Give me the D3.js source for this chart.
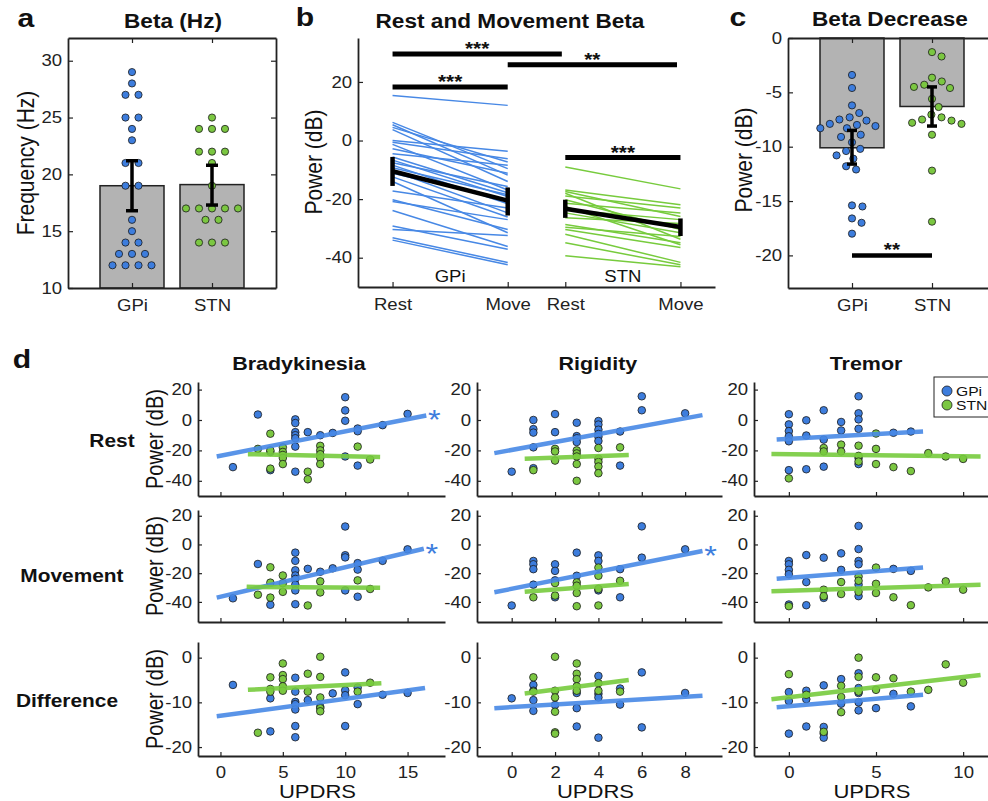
<!DOCTYPE html>
<html>
<head>
<meta charset="utf-8">
<script src="https://cdn.jsdelivr.net/npm/d3@7"></script>
<style>
  body { margin: 0; background: #fff; }
  svg text { font-family: "Liberation Sans", Arial, sans-serif; transform-box: fill-box; transform-origin: center; transform: scaleX(1.16); }
  svg .yax text { transform-origin: right center; }
  svg text.rot { transform: scaleY(1.16); }
  svg text.lft { transform-origin: left center; }
</style>
</head>
<body>
<svg id="chart"></svg>
<script>
// ---- data ----
const groups = ["GPi", "STN"];

// a: peak beta frequency (Hz)
const freqGPi = [29, 28, 27, 27, 25, 25, 24, 23, 21, 21, 19, 19, 16, 15, 14, 14, 13, 13, 13, 12, 12, 12, 12];
const freqSTN = [25, 24, 24, 24, 22, 22, 22, 21, 19, 17, 17, 17, 17, 17, 16, 16, 14, 14, 14];
const freqMean = [19.0, 19.1];
const freqLo = [16.8, 17.3];
const freqHi = [21.2, 20.8];

// b: rest / movement beta power (dB), paired per hemisphere
const restGPi = [15.4, 6.2, 5.4, 4.5, 3.7, 0, -0.6, -1.3, -2.8, -4.5, -5.6, -6.7, -7.6, -8.4, -9.3, -10.3, -11.2, -12.4, -14, -17.2, -20.2, -20.8, -23.9, -29.2, -30.4, -33.2, -34];
const moveGPi = [12, -9.6, -11.8, -7.3, -14, -3.7, -6.2, -16.9, -11.2, -8.4, -17.8, -19.1, -15.7, -21.6, -18.5, -24.7, -20.2, -26.1, -31.5, -23, -30.4, -27, -36.2, -37.1, -32.4, -41.6, -42.4];
const restSTN = [-9, -16.9, -17.4, -18, -18.9, -20.2, -21.4, -22.5, -23.6, -24.7, -26.4, -28.7, -29.6, -30.4, -32, -34.9, -39.3];
const moveSTN = [-16.5, -21.9, -25.9, -33.7, -23, -30.4, -24.7, -35.6, -27, -31.5, -28.3, -34.9, -32.8, -36.5, -41.6, -42.4, -43.1];
const meanGPi = [-10.5, -20.5];
const errGPi = [[-5.6, -15.5], [-16, -25.6]];
const meanSTN = [-23.3, -29.5];
const errSTN = [[-20.2, -26.4], [-26.6, -32.6]];
const conditionTicks = [1, 2, 2.5, 3.5];
const conditionLabels = ["Rest", "Move", "Rest", "Move"];
const sigBars = [
  { x0: 1, x1: 2.47, y: 29.5, label: "***" },
  { x0: 2, x1: 3.47, y: 25.9, label: "**" },
  { x0: 1, x1: 2, y: 18.3, label: "***" },
  { x0: 2.5, x1: 3.5, y: -5.8, label: "***" }
];

// c: beta decrease (dB)
const decGPi = [-3.4, -4.6, -6.2, -6.9, -7.3, -7.6, -7.5, -7.9, -8.0, -8.1, -8.3, -8.3, -9.1, -8.9, -9.6, -10.2, -10.4, -10.8, -11.1, -12.1, -11.8, -15.4, -15.5, -16.6, -17.0, -18.0];
const decSTN = [-1.3, -1.7, -3.65, -4.0, -4.3, -4.5, -4.6, -5.6, -6.35, -7.05, -7.3, -7.6, -7.5, -7.9, -7.8, -8.9, -12.2, -16.9];
const decMean = [-10.1, -6.3];
const decLo = [-11.6, -8.1];
const decHi = [-8.5, -4.5];
const decSig = { x0: 1, x1: 2, y: -20, label: "**" };

// d: UPDRS subscore vs power, [UPDRS, dB]
const bradyRestGPi = [[1,-31],[3,3.6],[4,-21],[4,-33],[6,0.4],[6,-2],[6,-8],[6,-10],[6,-12],[6,-17.5],[6,-34],[7,-8],[8,-10],[9,-8.5],[10,15],[10,6.3],[10,-0.5],[10,-24],[11,-5.6],[11,-7.4],[11,-30],[13,-3.4],[15,4]];
const bradyRestSTN = [[3,-19],[4,-9],[4,-20],[4,-32],[5,-18],[5,-21],[5,-23],[5,-25],[5,-29],[7,-34],[7,-39],[8,-17],[8,-20],[8,-22.5],[8,-25],[8,-29],[11,-17.5],[12,-26]];
const rigidRestGPi = [[0,-34],[1,0],[1,-6],[1,-8.3],[1,-18],[1,-31.7],[2,3.9],[2,-8],[3,-1.8],[3,-10.6],[3,-12],[3,-14.5],[4,-0.7],[4,-3],[4,-6.4],[4,-9.2],[4,-11],[4,-13.8],[5,-7.6],[5,-30],[6,15.6],[6,6.4],[8,4.4]];
const rigidRestSTN = [[1,-33],[2,-19],[2,-20.7],[2,-26.7],[3,-20],[3,-22],[3,-24],[3,-29],[3,-40],[4,-18.4],[4,-25.5],[4,-27.6],[4,-30.6],[4,-35],[5,-18]];
const tremorRestGPi = [[0,3.8],[0,-2.9],[0,-7.3],[0,-10.7],[0,-14],[0,-33],[1,-0.2],[1,-10.2],[1,-32.4],[2,6.4],[2,-12.9],[2,-30.7],[3,-1.3],[3,-6.9],[4,15.6],[4,4.4],[4,0.4],[4,-5.8],[4,-25],[4,-29],[6,-8.4],[7,-7.6]];
const tremorRestSTN = [[0,-38.4],[2,-18.4],[2,-20.7],[3,-16.2],[3,-20.7],[4,-16.9],[4,-23.6],[4,-27.3],[5,-8.9],[5,-19],[5,-29],[6,-31],[7,-33.6],[8,-21.8],[9,-24],[10,-25.6]];
const bradyMoveGPi = [[1,-37.5],[3,-13.6],[4,-42],[6,-5.7],[6,-11.4],[6,-18],[6,-21.6],[6,-24],[6,-28],[6,-32],[6,-41.6],[7,-17],[8,-19],[9,-16.6],[10,12.5],[10,-7.5],[10,-9],[10,-32],[11,-13],[11,-17.5],[11,-36.4],[13,-11.4],[15,-3.4]];
const bradyMoveSTN = [[3,-35],[4,-15.9],[4,-26.6],[4,-37],[5,-21.6],[5,-27],[5,-33],[7,-42.5],[8,-25.7],[8,-33.4],[11,-25],[12,-31]];
const rigidMoveGPi = [[0,-42.5],[1,-11.5],[1,-13.8],[1,-17.2],[1,-28],[2,-13.8],[2,-18.4],[2,-25],[2,-36.8],[3,-5.7],[3,-21.8],[4,-7.6],[4,-11.5],[4,-32],[5,-17.2],[5,-36.8],[6,12.6],[6,-9.2],[8,-3.4]];
const rigidMoveSTN = [[1,-36.8],[2,-26.9],[2,-35.6],[3,-26.4],[3,-28.7],[3,-33.8],[3,-43],[4,-16.1],[4,-21.8],[4,-31],[4,-42.5],[5,-25.3]];
const tremorMoveGPi = [[0,-11.5],[0,-13.8],[0,-17.7],[0,-20.7],[0,-41.8],[1,-7.4],[1,-26.2],[1,-42.3],[2,-9.2],[2,-37.2],[3,-6.2],[3,-17.7],[4,12.9],[4,-3.2],[4,-11.5],[4,-13.8],[4,-28],[4,-36],[6,-17],[7,-18.4]];
const tremorMoveSTN = [[0,-43],[2,-31.5],[2,-36],[3,-26.2],[3,-34.5],[4,-22.3],[4,-25.3],[4,-33],[5,-16.1],[5,-27.4],[5,-33.8],[6,-36.8],[7,-42.3],[8,-29.9],[9,-25.7],[10,-31.5]];
const bradyDiffGPi = [[1,-6.1],[4,-9.1],[4,-16.5],[6,-4.5],[6,-7.6],[6,-9.9],[6,-10.4],[6,-11.6],[6,-15.3],[6,-17.8],[7,-9.5],[8,-11],[9,-8],[10,-3.3],[10,-7.3],[10,-8.4],[10,-15.3],[11,-6.7],[11,-10.4],[13,-8.3],[15,-7.9]];
const bradyDiffSTN = [[3,-16.8],[4,-4.4],[4,-7],[4,-7.6],[5,-1.3],[5,-3.9],[5,-4.8],[5,-6.4],[5,-7.4],[7,-3.6],[7,-7.6],[8,0.2],[8,-4.3],[8,-8.9],[8,-11.3],[8,-12],[11,-7.6],[12,-5.6]];
const rigidDiffGPi = [[0,-9.1],[1,-6.1],[1,-7.4],[1,-9.5],[1,-11.9],[2,-10.6],[3,-7.9],[3,-11.3],[3,-15.4],[4,-4.1],[4,-8.1],[4,-8.9],[4,-17.9],[5,-6.9],[5,-10.5],[6,-3.3],[6,-15.6],[8,-7.9]];
const rigidDiffSTN = [[1,-4.4],[1,-7.6],[2,0.2],[2,-7.4],[2,-8.9],[2,-12.1],[2,-16.7],[2,-17],[3,-1.3],[3,-3.6],[3,-4.8],[3,-6.4],[3,-7.4],[4,-5.7],[4,-7.4],[5,-7.6]];
const tremorDiffGPi = [[0,-7.7],[0,-9.7],[0,-17],[1,-7.4],[1,-9.3],[1,-15.4],[2,-6.2],[2,-15.5],[2,-17],[2,-17.9],[3,-4.8],[3,-10.3],[4,-3.5],[4,-6.8],[4,-7.9],[4,-10],[4,-11.8],[5,-11.3],[6,-8.1],[7,-10.9]];
const tremorDiffSTN = [[0,-3.7],[1,-8.3],[2,-16.6],[3,-6.3],[3,-8.8],[3,-12.2],[4,0],[4,-4.3],[4,-7.6],[5,-4.4],[5,-7.2],[6,-4.6],[7,-7.6],[8,-7.2],[9,-1.5],[10,-5.6]];

// regression lines, [[x0,y0],[x1,y1]]
const fitBradyRestGPi = [[-0.3,-24],[16.5,3]], fitBradyRestSTN = [[2.2,-22.5],[12.8,-24.3]];
const fitRigidRestGPi = [[-0.8,-21.8],[8.8,3.2]], fitRigidRestSTN = [[0.6,-25.5],[5.4,-23]];
const fitTremorRestGPi = [[-0.7,-12.9],[7.7,-7.6]], fitTremorRestSTN = [[-1,-22.4],[11,-24]];
const fitBradyMoveGPi = [[-0.3,-37],[16.3,-3]], fitBradyMoveSTN = [[2.1,-29.5],[12.8,-30.2]];
const fitRigidMoveGPi = [[-0.8,-33.3],[8.8,-4.6]], fitRigidMoveSTN = [[0.6,-32.9],[5.4,-27.6]];
const fitTremorMoveGPi = [[-0.7,-23.9],[7.7,-16.1]], fitTremorMoveSTN = [[-1,-32.6],[11,-28]];
const fitBradyDiffGPi = [[-0.3,-13.1],[16.4,-6.8]], fitBradyDiffSTN = [[2.2,-7.2],[12.9,-5.7]];
const fitRigidDiffGPi = [[-0.8,-11.3],[8.8,-8.5]], fitRigidDiffSTN = [[0.6,-8],[5.4,-5]];
const fitTremorDiffGPi = [[-0.7,-11.1],[7.7,-8.3]], fitTremorDiffSTN = [[-1,-9.3],[11,-3.9]];

const rowNames = ["Rest", "Movement", "Difference"];
const colNames = ["Bradykinesia", "Rigidity", "Tremor"];
const significant = [[true, false, false], [true, true, false], [false, false, false]];

// ---- drawing ----
const ink = "#222";
const blue = "#3d7ddd", green = "#7bc741";
const blueLine = "#4788e5", greenLine = "#77cb3d";
const barGray = "#b3b3b3";

const svg = d3.select("#chart").attr("width", 988).attr("height", 801);

function styleAxis(g, size) {
  g.select(".domain").attr("stroke", ink).attr("stroke-width", 1.8);
  g.selectAll(".tick line").attr("stroke", ink).attr("stroke-width", 1.2);
  g.selectAll(".tick text").attr("fill", ink).style("font-size", (size || 16) + "px");
}
function label(g, x, y, txt, size, weight, anchor, cls) {
  return g.append("text").attr("x", x).attr("y", y).attr("text-anchor", anchor || "middle")
    .attr("class", cls || null)
    .style("font-size", size + "px").style("font-weight", weight || "normal").attr("fill", "#111").text(txt);
}
function yLabel(g, x, y, txt, size) {
  g.append("g").attr("transform", `translate(${x},${y}) rotate(-90)`)
    .append("text").attr("class", "rot").attr("text-anchor", "middle").attr("dy", "0.35em")
    .style("font-size", size + "px").attr("fill", "#111").text(txt);
}
function rowSpread(values, spacing) {
  const count = d3.rollup(values, v => v.length, v => v);
  const seen = new Map();
  return values.map(v => {
    const n = count.get(v), k = seen.get(v) || 0;
    seen.set(v, k + 1);
    return (k - (n - 1) / 2) * spacing;
  });
}
function swarm(values, y, sep) {
  const placed = [], out = new Array(values.length);
  d3.range(values.length).sort((a, b) => values[b] - values[a]).forEach(i => {
    const py = y(values[i]);
    const cands = [0];
    placed.forEach(p => {
      const dy = Math.abs(p.y - py);
      if (dy < sep) { const dx = Math.sqrt(sep * sep - dy * dy); cands.push(p.x + dx, p.x - dx); }
    });
    cands.sort((a, b) => Math.abs(a) - Math.abs(b));
    const x = cands.find(c => placed.every(p => (p.x - c) ** 2 + (p.y - py) ** 2 >= sep * sep - 0.01));
    placed.push({ x, y: py });
    out[i] = x;
  });
  return out;
}
function boxAxes(g, x, y, yTicks) {
  const [x0, x1] = x.range(), [y0, y1] = y.range();
  g.append("g").attr("transform", `translate(0,${y0})`)
    .call(d3.axisBottom(x).tickValues([1, 2]).tickFormat(d => groups[d - 1]).tickSizeInner(-5).tickSizeOuter(0).tickPadding(12))
    .call(styleAxis);
  g.append("g").attr("transform", `translate(0,${y1})`)
    .call(d3.axisTop(x).tickValues([1, 2]).tickFormat("").tickSizeInner(-5).tickSizeOuter(0)).call(styleAxis);
  g.append("g").attr("class", "yax").attr("transform", `translate(${x0},0)`)
    .call(d3.axisLeft(y).tickValues(yTicks).tickFormat(d => String(d)).tickSizeInner(-5).tickSizeOuter(0).tickPadding(6))
    .call(styleAxis);
  g.append("g").attr("transform", `translate(${x1},0)`)
    .call(d3.axisRight(y).tickValues(yTicks).tickFormat("").tickSizeInner(-5).tickSizeOuter(0)).call(styleAxis);
}
function errorBar(g, cx, yLo, yHi, cap, width) {
  g.append("line").attr("x1", cx).attr("x2", cx).attr("y1", yLo).attr("y2", yHi).attr("stroke", "#000").attr("stroke-width", width);
  [yLo, yHi].forEach(yy => g.append("line").attr("x1", cx - cap / 2).attr("x2", cx + cap / 2).attr("y1", yy).attr("y2", yy)
    .attr("stroke", "#000").attr("stroke-width", width));
}
function dots(g, xs, ys, col, r) {
  g.append("g").selectAll("circle").data(xs).join("circle")
    .attr("cx", d => d).attr("cy", (d, i) => ys[i]).attr("r", r)
    .attr("fill", col).attr("stroke", "#1a1a1a").attr("stroke-width", 0.8);
}

// panel a
{
  const g = svg.append("g");
  const x = d3.scaleLinear().domain([0.2, 2.8]).range([68, 276]);
  const y = d3.scaleLinear().domain([10, 32]).range([288, 38]);
  const bw = x(1.4) - x(0.6);
  g.selectAll("rect").data(freqMean).join("rect")
    .attr("x", (d, i) => x(i + 1) - bw / 2).attr("width", bw)
    .attr("y", d => y(d)).attr("height", d => y(10) - y(d))
    .attr("fill", barGray).attr("stroke", ink).attr("stroke-width", 1.5);
  [[freqGPi, blue], [freqSTN, green]].forEach(([vals, col], i) => {
    const off = rowSpread(vals, 13);
    dots(g, off.map(o => x(i + 1) + o), vals.map(v => y(v)), col, 3.6);
  });
  freqMean.forEach((m, i) => errorBar(g, x(i + 1), y(freqLo[i]), y(freqHi[i]), 12, 3.5));
  boxAxes(g, x, y, [10, 15, 20, 25, 30]);
  yLabel(g, 25, 163, "Frequency (Hz)", 21);
  label(g, 173, 28, "Beta (Hz)", 19.5, "bold");
  label(g, 26, 27, "a", 26, "bold");
}

// panel b
{
  const g = svg.append("g");
  const x = d3.scaleLinear().domain([0.7, 3.8]).range([358, 715]);
  const y = d3.scaleLinear().domain([-50, 35]).range([287, 38]);
  const pairs = [
    { rest: restGPi, move: moveGPi, xs: [1, 2], col: blueLine, mean: meanGPi, err: errGPi },
    { rest: restSTN, move: moveSTN, xs: [2.5, 3.5], col: greenLine, mean: meanSTN, err: errSTN }
  ];
  pairs.forEach(p => {
    g.append("g").selectAll("line").data(p.rest).join("line")
      .attr("x1", x(p.xs[0])).attr("x2", x(p.xs[1]))
      .attr("y1", d => y(d)).attr("y2", (d, i) => y(p.move[i]))
      .attr("stroke", p.col).attr("stroke-width", 1.5);
  });
  pairs.forEach(p => {
    g.append("line").attr("x1", x(p.xs[0])).attr("x2", x(p.xs[1]))
      .attr("y1", y(p.mean[0])).attr("y2", y(p.mean[1])).attr("stroke", "#000").attr("stroke-width", 4.5);
    p.err.forEach((e, k) => g.append("line").attr("x1", x(p.xs[k])).attr("x2", x(p.xs[k]))
      .attr("y1", y(e[0])).attr("y2", y(e[1])).attr("stroke", "#000").attr("stroke-width", 4.5));
  });
  g.append("g").attr("transform", "translate(0,287)")
    .call(d3.axisBottom(x).tickValues(conditionTicks).tickFormat((d, i) => conditionLabels[i]).tickSizeInner(-5).tickSizeOuter(0).tickPadding(12))
    .call(styleAxis);
  g.append("g").attr("class", "yax").attr("transform", "translate(358,0)")
    .call(d3.axisLeft(y).tickValues([-40, -20, 0, 20]).tickFormat(d => String(d)).tickSizeInner(-5).tickSizeOuter(0).tickPadding(6))
    .call(styleAxis);
  sigBars.forEach(s => {
    g.append("line").attr("x1", x(s.x0)).attr("x2", x(s.x1)).attr("y1", y(s.y)).attr("y2", y(s.y))
      .attr("stroke", "#000").attr("stroke-width", 5);
    label(g, x((s.x0 + s.x1) / 2), y(s.y) + 1, s.label, 18, "bold");
  });
  label(g, x(1.5), 282, "GPi", 16);
  label(g, x(3), 282, "STN", 16);
  yLabel(g, 313, 162, "Power (dB)", 21);
  label(g, 510, 28, "Rest and Movement Beta", 19.5, "bold");
  label(g, 305, 26, "b", 26, "bold");
}

// panel c
{
  const g = svg.append("g");
  const x = d3.scaleLinear().domain([0.2, 2.8]).range([788, 996]);
  const y = d3.scaleLinear().domain([-23, 0]).range([288, 38]);
  const bw = x(1.4) - x(0.6);
  g.selectAll("rect").data(decMean).join("rect")
    .attr("x", (d, i) => x(i + 1) - bw / 2).attr("width", bw)
    .attr("y", y(0)).attr("height", d => y(d) - y(0))
    .attr("fill", barGray).attr("stroke", ink).attr("stroke-width", 1.5);
  [[decGPi, blue], [decSTN, green]].forEach(([vals, col], i) => {
    const off = swarm(vals, y, 10.5);
    dots(g, off.map(o => x(i + 1) + o), vals.map(v => y(v)), col, 3.6);
  });
  decMean.forEach((m, i) => errorBar(g, x(i + 1), y(decLo[i]), y(decHi[i]), 10, 3.5));
  g.append("line").attr("x1", x(decSig.x0)).attr("x2", x(decSig.x1)).attr("y1", y(decSig.y)).attr("y2", y(decSig.y))
    .attr("stroke", "#000").attr("stroke-width", 4.5);
  label(g, x(1.5), y(decSig.y) + 1, decSig.label, 18, "bold");
  boxAxes(g, x, y, [-20, -15, -10, -5, 0]);
  yLabel(g, 743, 160, "Power (dB)", 21);
  label(g, 890, 26, "Beta Decrease", 19.5, "bold");
  label(g, 738, 26, "c", 26, "bold");
}

// panel d
const scatterPanels = [
  [[bradyRestGPi, bradyRestSTN, fitBradyRestGPi, fitBradyRestSTN],
   [rigidRestGPi, rigidRestSTN, fitRigidRestGPi, fitRigidRestSTN],
   [tremorRestGPi, tremorRestSTN, fitTremorRestGPi, fitTremorRestSTN]],
  [[bradyMoveGPi, bradyMoveSTN, fitBradyMoveGPi, fitBradyMoveSTN],
   [rigidMoveGPi, rigidMoveSTN, fitRigidMoveGPi, fitRigidMoveSTN],
   [tremorMoveGPi, tremorMoveSTN, fitTremorMoveGPi, fitTremorMoveSTN]],
  [[bradyDiffGPi, bradyDiffSTN, fitBradyDiffGPi, fitBradyDiffSTN],
   [rigidDiffGPi, rigidDiffSTN, fitRigidDiffGPi, fitRigidDiffSTN],
   [tremorDiffGPi, tremorDiffSTN, fitTremorDiffGPi, fitTremorDiffSTN]]
];
const colLayout = [
  { domain: [-1.8, 18], range: [198, 445], ticks: [0, 5, 10, 15] },
  { domain: [-1.6, 9.7], range: [477, 722], ticks: [0, 2, 4, 6, 8] },
  { domain: [-2, 12], range: [754, 998], ticks: [0, 5, 10] }
];
const rowLayout = [
  { domain: [-50, 25], range: [496, 382], ticks: [-40, -20, 0, 20] },
  { domain: [-54, 24], range: [622, 510], ticks: [-40, -20, 0, 20] },
  { domain: [-22, 3.5], range: [756, 642], ticks: [-20, -10, 0] }
];
const pd = svg.append("g");
scatterPanels.forEach((row, r) => row.forEach(([gpi, stn, fitG, fitS], c) => {
  const g = pd.append("g");
  const x = d3.scaleLinear().domain(colLayout[c].domain).range(colLayout[c].range);
  const y = d3.scaleLinear().domain(rowLayout[r].domain).range(rowLayout[r].range);
  const xa = d3.axisBottom(x).tickValues(colLayout[c].ticks).tickFormat(d => String(d)).tickSizeInner(-4).tickSizeOuter(0).tickPadding(11);
  if (r < 2) xa.tickFormat("");
  g.append("g").attr("transform", `translate(0,${rowLayout[r].range[0]})`).call(xa).call(styleAxis);
  g.append("g").attr("class", "yax").attr("transform", `translate(${colLayout[c].range[0]},0)`)
    .call(d3.axisLeft(y).tickValues(rowLayout[r].ticks).tickFormat(d => String(d)).tickSizeInner(-4).tickSizeOuter(0).tickPadding(6))
    .call(styleAxis);
  [[gpi, blue], [stn, green]].forEach(([pts, col]) => {
    dots(g, pts.map(d => x(d[0])), pts.map(d => y(d[1])), col, 3.8);
  });
  [[fitG, blueLine], [fitS, greenLine]].forEach(([f, col]) => {
    g.append("line").attr("x1", x(f[0][0])).attr("y1", y(f[0][1])).attr("x2", x(f[1][0])).attr("y2", y(f[1][1]))
      .attr("stroke", col).attr("stroke-width", 4.5).attr("stroke-opacity", 0.9);
  });
  if (significant[r][c]) {
    g.append("text").attr("x", x(fitG[1][0]) + 8).attr("y", y(fitG[1][1]) + 14)
      .attr("text-anchor", "middle").style("font-size", "28px").attr("fill", blue).text("*");
  }
  if (c === 0) yLabel(g, 155, (rowLayout[r].range[0] + rowLayout[r].range[1]) / 2, "Power (dB)", 20);
  if (r === 2) label(g, (colLayout[c].range[0] + colLayout[c].range[1]) / 2 - 4, 798, "UPDRS", 19);
}));
colNames.forEach((n, c) => label(pd, [299, 598, 866][c], 370, n, 18.5, "bold"));
[[112, 447], [72, 582], [67, 707]].forEach(([lx, ly], r) => label(pd, lx, ly, rowNames[r], 18, "bold"));
label(pd, 22, 368, "d", 26, "bold");

// legend
{
  const g = pd.append("g");
  g.append("rect").attr("x", 934).attr("y", 377).attr("width", 60).attr("height", 40)
    .attr("fill", "#fff").attr("stroke", ink).attr("stroke-width", 1);
  groups.forEach((n, i) => {
    g.append("circle").attr("cx", 947).attr("cy", 391 + i * 14).attr("r", 5)
      .attr("fill", i ? green : blue).attr("stroke", "#1a1a1a").attr("stroke-width", 0.8);
    label(g, 956, 396 + i * 14, n, 13.5, "normal", "start", "lft");
  });
}
</script>
</body>
</html>
